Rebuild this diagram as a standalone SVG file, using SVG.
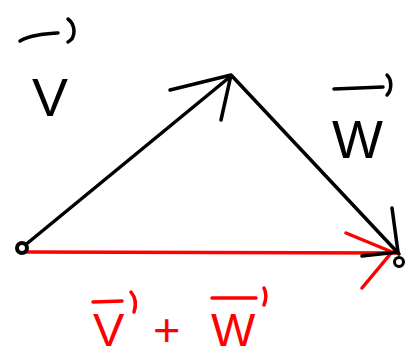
<svg xmlns="http://www.w3.org/2000/svg" width="408" height="359" viewBox="0 0 408 359">
<style>
.k{stroke:#000;stroke-width:3.5;fill:none;stroke-linecap:round;stroke-linejoin:round}
.r{stroke:#f00;stroke-width:3.5;fill:none;stroke-linecap:round;stroke-linejoin:round}
.tk{font-family:"Liberation Sans",Arial,sans-serif;font-size:54px;fill:#000}
.tr{font-family:"Liberation Sans",Arial,sans-serif;font-size:47px;fill:#f00}
</style>
<rect width="408" height="359" fill="#fff"/>
<g id="connectors">
<path class="r" d="M27 252 L397 253"/>
<path class="r" d="M346 233 L392 252 L362 288"/>
<path class="k" d="M24 246 L231 76"/>
<path class="k" d="M170 90 L231 75 L221 120"/>
<path class="k" d="M232 76 L399 254"/>
<path class="k" d="M392 208 L398 252 L362 256"/>
</g>
<g id="start">
<circle cx="22" cy="248" r="5" fill="#fff" stroke="#000" stroke-width="4"/>
</g>
<g id="end">
<circle cx="399" cy="262" r="4.5" fill="#fff" stroke="#000" stroke-width="3"/>
</g>
<g id="label-v">
<path class="k" d="M20 41 C30 35 45 34 58 33 M68 19 C76 25 76 38 68 42"/>
<text class="tk" x="32" y="116">V</text>
</g>
<g id="label-w">
<path class="k" d="M334 89 L383 87 M387 75 C392 80 392 90 387 95"/>
<text class="tk" x="332" y="158">W</text>
</g>
<g id="label-sum">
<path class="r" d="M93 302 L122 301 M131 292 C136 298 136 306 134 312 M212 298 L256 298 M264 288 C267 294 266 300 264 305"/>
<text class="tr" x="93" y="346">V</text>
<text class="tr" x="153" y="346">+</text>
<text class="tr" x="211" y="346">W</text>
</g>
</svg>
